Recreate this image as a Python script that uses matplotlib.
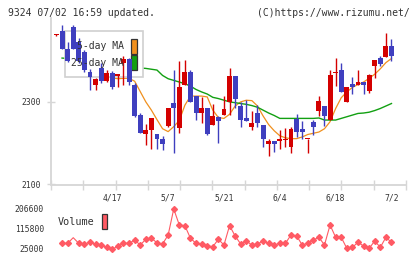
import numpy as np
import matplotlib.pyplot as plt
from matplotlib.patches import Rectangle

# daily prices (index 0 = leftmost candle)
opens = [2462, 2471, 2428, 2482, 2445, 2421, 2373, 2342, 2382, 2350,
         2370, 2363, 2393, 2403, 2342, 2268, 2222, 2231, 2222, 2211,
         2241, 2298, 2236, 2340, 2373, 2314, 2273, 2286, 2243, 2264,
         2268, 2300, 2362, 2290, 2261, 2240, 2273, 2245, 2199, 2205,
         2205, 2209, 2190, 2258, 2234, 2211, 2252, 2278, 2290, 2256,
         2371, 2377, 2300, 2343, 2342, 2348, 2327, 2387, 2406, 2409, 2436]
highs = [2464, 2486, 2445, 2486, 2454, 2426, 2380, 2358, 2394, 2377,
         2375, 2368, 2411, 2405, 2345, 2272, 2246, 2260, 2222, 2217,
         2286, 2378, 2399, 2401, 2377, 2314, 2312, 2286, 2296, 2265,
         2314, 2381, 2362, 2300, 2304, 2278, 2292, 2245, 2209, 2205,
         2231, 2236, 2238, 2270, 2254, 2211, 2257, 2314, 2290, 2378,
         2405, 2395, 2336, 2359, 2377, 2348, 2367, 2401, 2411, 2467, 2452]
lows = [2460, 2427, 2397, 2428, 2395, 2372, 2328, 2328, 2345, 2348,
        2330, 2336, 2340, 2340, 2264, 2224, 2195, 2187, 2185, 2183,
        2238, 2177, 2225, 2340, 2300, 2257, 2249, 2220, 2243, 2201,
        2268, 2268, 2284, 2238, 2254, 2231, 2238, 2191, 2169, 2179,
        2185, 2191, 2177, 2214, 2211, 2177, 2219, 2265, 2241, 2256,
        2339, 2324, 2300, 2319, 2342, 2318, 2322, 2357, 2387, 2409, 2399]
closes = [2462, 2427, 2399, 2428, 2399, 2377, 2359, 2355, 2350, 2370,
          2336, 2367, 2403, 2348, 2265, 2225, 2231, 2260, 2209, 2199,
          2286, 2284, 2336, 2373, 2300, 2272, 2286, 2222, 2265, 2254,
          2282, 2362, 2306, 2256, 2254, 2248, 2249, 2209, 2205, 2199,
          2209, 2211, 2234, 2226, 2226, 2211, 2238, 2302, 2265, 2365,
          2371, 2324, 2336, 2336, 2348, 2342, 2365, 2401, 2391, 2436, 2411]

nan = np.nan
ma5 = [nan, 2445, 2442, 2440, 2432, 2420, 2405, 2388, 2374, 2364,
       2358, 2356, 2357, 2357, 2350, 2325, 2300, 2280, 2257, 2235,
       2228, 2240, 2255, 2292, 2314, 2314, 2314, 2312, 2280, 2262,
       2260, 2270, 2290, 2300, 2304, 2303, 2290, 2266, 2245, 2230,
       2218, 2213, 2211, 2211, 2215, 2221, 2224, 2227, 2235, 2252,
       2284, 2310, 2324, 2335, 2342, 2348, 2357, 2367, 2380, 2395, 2405]
ma25 = [nan, 2406, 2405, 2404, 2402, 2400, 2398, 2396, 2394, 2392,
        2390, 2388, 2386, 2384, 2383, 2382, 2381, 2379, 2377, 2364,
        2356, 2352, 2348, 2344, 2338, 2330, 2324, 2319, 2311, 2308,
        2304, 2300, 2298, 2296, 2294, 2291, 2287, 2280, 2273, 2267,
        2260, 2260, 2260, 2260, 2260, 2260, 2260, 2261, 2256, 2256,
        2256, 2260, 2264, 2268, 2272, 2273, 2275, 2279, 2284, 2290, 2296]

# volume for candles 1..60
volume = [50700, 50700, 76400, 50700, 47700, 55300, 47700, 43200, 32600, 23500,
          38600, 50700, 50700, 65900, 43200, 68900, 73400, 53700, 47700, 88500,
          206600, 134000, 131000, 73400, 50700, 47700, 38600, 35600, 68900, 43200,
          131000, 84000, 47700, 61300, 43200, 47700, 61300, 50700, 43200, 50700,
          50700, 88500, 85500, 43200, 50700, 65900, 78000, 43200, 134000, 78000,
          78000, 28000, 32600, 55300, 38600, 28000, 61300, 32600, 78000, 55300]

date_pos = [10, 20, 30, 40, 50, 60]
date_labels = ['4/17', '5/7', '5/21', '6/4', '6/18', '7/2']

RED = '#d40000'
BLUE = '#3f3fbf'
ORANGE = '#f0901e'
GREEN = '#12a012'
GRID = '#d6d6d6'
MONO = 'DejaVu Sans Mono'

W, H = 420, 259
fig = plt.figure(figsize=(W / 100, H / 100), dpi=100)

xlim = (-0.98, 62.6)
ax = fig.add_axes([51 / W, (H - 184.5) / H, 355 / W, (184.5 - 18) / H])
ax.set_xlim(*xlim)
ax.set_ylim(2100, 2503)

x = np.arange(len(opens))
for i in x:
    o, h, l, c = opens[i], highs[i], lows[i], closes[i]
    col = RED if c >= o else BLUE
    ax.vlines(i, l, h, color=col, lw=1.0, zorder=3)
    bot = min(o, c)
    ht = max(abs(c - o), 2.5)
    ax.bar(i, ht, bottom=bot - (ht - abs(c - o)) / 2, width=0.88,
           color=col, zorder=3, linewidth=0)

ax.plot(x, ma5, color=ORANGE, lw=0.9, zorder=1)
ax.plot(x, ma25, color=GREEN, lw=1.0, zorder=1)

# legend box (drawn under the candles, over the MA lines)
leg_box = Rectangle((65, H - 77.3), 78, 46.8, transform=None,
                    facecolor='white', edgecolor='#d0d0d0', lw=1.2, zorder=2)
ax.add_artist(leg_box)
for yy, txt, col in [(46, '5-day MA', ORANGE), (62.5, '25-day MA', GREEN)]:
    fig.text(124 / W, 1 - yy / H, txt, ha='right', va='center',
             fontsize=7, family=MONO, color='#333333', zorder=2.5)
    r = Rectangle((130.7, H - yy - 7.8), 6.6, 15.3, transform=None,
                  facecolor=col, edgecolor='#333333', lw=0.9, zorder=2.6)
    ax.add_artist(r)

for s in ['top', 'right']:
    ax.spines[s].set_visible(False)
for s in ['left', 'bottom']:
    ax.spines[s].set_color(GRID)
    ax.spines[s].set_linewidth(1.3)

ax.set_yticks([2100, 2300])
ax.set_yticklabels(['2100', '2300'])
ax.tick_params(axis='y', direction='inout', length=6, width=1, color=GRID,
               pad=4, labelsize=5.8, labelcolor='#333333')
ax.set_xticks(date_pos)
ax.set_xticklabels([])
ax.set_xticks(np.linspace(xlim[0], xlim[1], 12), minor=True)
ax.tick_params(axis='x', which='major', length=0)
ax.tick_params(axis='x', which='minor', direction='inout', length=6.5,
               width=1, color=GRID)
for lab in ax.get_yticklabels():
    lab.set_family(MONO)

# date labels between the panels
for p, lab in zip(date_pos, date_labels):
    ax.annotate(lab, xy=(p, 0), xycoords=('data', 'axes fraction'),
                xytext=(0, -10), textcoords='offset points', ha='center',
                va='center', fontsize=5.8, family=MONO, color='#333333')

# volume panel
vx = np.arange(1, len(volume) + 1)
vax = fig.add_axes([51 / W, 6 / H, 355 / W, 48 / H])
vax.set_xlim(*xlim)
vax.set_ylim(6840, 224760)
marks = [k for k in range(len(volume)) if k != 2]
vax.plot(vx, volume, color='#ff5a64', lw=0.8, marker='D', markersize=3.0,
         markevery=marks)
vax.set_xticks([])
vax.set_yticks([25000, 115800, 206600])
vax.set_yticklabels(['25000', '115800', '206600'])
vax.tick_params(axis='y', length=0, pad=5, labelsize=5.8, labelcolor='#333333')
for lab in vax.get_yticklabels():
    lab.set_family(MONO)
for s in vax.spines.values():
    s.set_visible(False)
vax.patch.set_alpha(0)

fig.text(58 / W, 1 - 222 / H, 'Volume', ha='left', va='center',
         fontsize=7.3, family=MONO, color='#333333')
fig.add_artist(Rectangle((101.5, H - 228.5), 5.5, 15, transform=None,
                         facecolor='#ff5a64', edgecolor='#333333', lw=0.9))

fig.text(8 / W, 1 - 12.5 / H, '9324 07/02 16:59 updated.', ha='left',
         va='center', fontsize=7.0, family=MONO, color='#333333')
fig.text(410 / W, 1 - 12.5 / H, '(C)https://www.rizumu.net/', ha='right',
         va='center', fontsize=7.0, family=MONO, color='#333333')

fig.savefig('out.png', dpi=100)
